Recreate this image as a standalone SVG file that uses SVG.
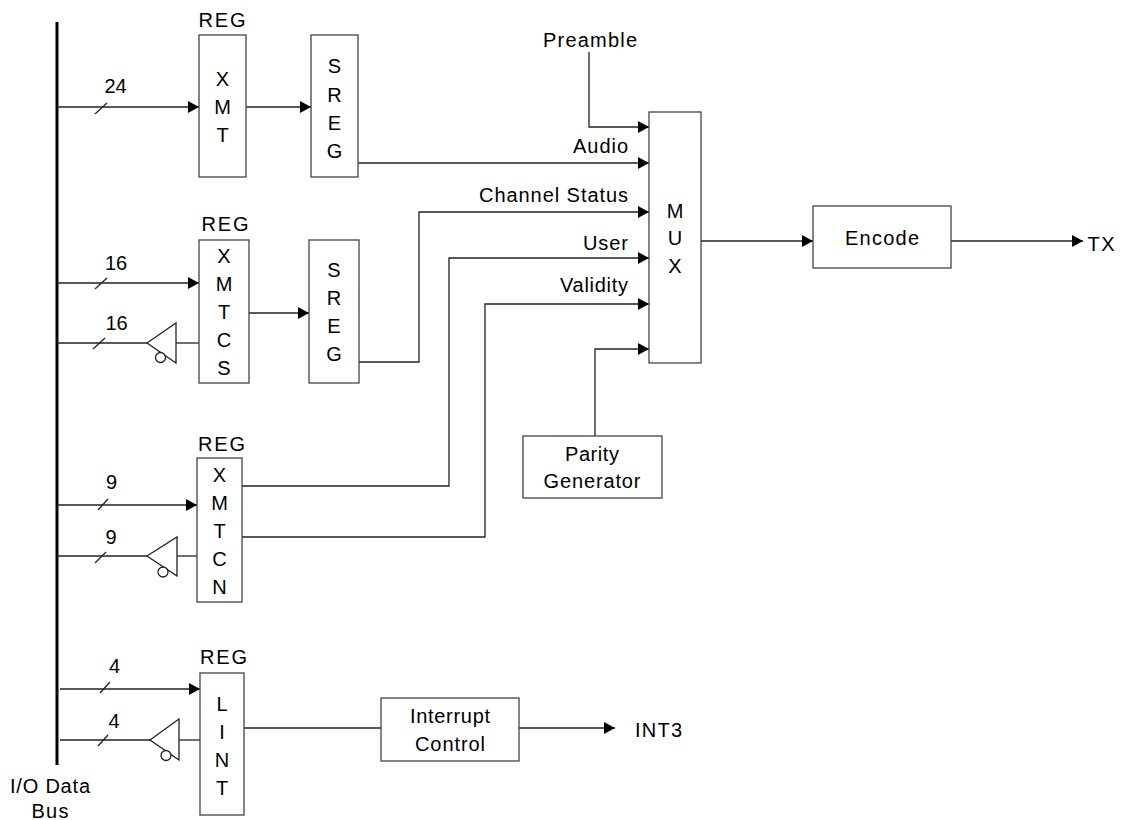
<svg xmlns="http://www.w3.org/2000/svg" width="1125" height="820" viewBox="0 0 1125 820">
<style>
.ln{stroke:#222;stroke-width:1.3;fill:none}
.bx{stroke:#444;stroke-width:1.3;fill:#fff}
.bf{stroke:#222;stroke-width:1.3;fill:#fff}
.t{font-family:"Liberation Sans",Arial,Helvetica,sans-serif;font-size:20px;fill:#000;text-anchor:middle}
.arr{marker-end:url(#ah)}
</style>
<defs>
<marker id="ah" markerUnits="userSpaceOnUse" markerWidth="11" markerHeight="12" refX="11" refY="6" orient="auto" viewBox="0 0 11 12"><path d="M0,0L11,6L0,12z" fill="#000"/></marker>
</defs>
<rect width="1125" height="820" fill="#fff"/>

<g id="bus">
<line x1="57" y1="22" x2="57" y2="765" stroke="#000" stroke-width="3"/>
<text class="t" x="50" y="793" textLength="80">I/O Data</text>
<text class="t" x="50" y="818" textLength="37">Bus</text>
</g>

<g id="connectors">
<path class="ln arr" d="M57,107H199"/>
<path class="ln" d="M95,114L107,103"/>
<path class="ln arr" d="M246,107H311"/>
<path class="ln arr" d="M358,163H649"/>
<path class="ln arr" d="M589,52V127H649"/>
<path class="ln arr" d="M359,362H419V212H649"/>
<path class="ln arr" d="M57,283H199"/>
<path class="ln" d="M95,289L107,278"/>
<path class="ln" d="M57,343H147"/>
<path class="ln" d="M93,349L105,338"/>
<path class="ln" d="M176,343H199"/>
<path class="ln arr" d="M249,313H309"/>
<path class="ln arr" d="M242,486H449V258H649"/>
<path class="ln arr" d="M242,537H485V304H649"/>
<path class="ln arr" d="M57,505H197"/>
<path class="ln" d="M98,510L108,499"/>
<path class="ln" d="M57,556H147"/>
<path class="ln" d="M95,563L106,552"/>
<path class="ln" d="M177,556H197"/>
<path class="ln arr" d="M595,436V349H649"/>
<path class="ln arr" d="M701,241H813"/>
<path class="ln arr" d="M951,241H1083"/>
<path class="ln arr" d="M60,689H200"/>
<path class="ln" d="M100,693L110,682"/>
<path class="ln" d="M60,740H150"/>
<path class="ln" d="M98,746L108,735"/>
<path class="ln" d="M179,740H200"/>
<path class="ln" d="M244,728H381"/>
<path class="ln arr" d="M519,728H615"/>
<text class="t" x="115.5" y="93">24</text>
<text class="t" x="116" y="270">16</text>
<text class="t" x="116.5" y="330">16</text>
<text class="t" x="111.5" y="489">9</text>
<text class="t" x="111" y="544">9</text>
<text class="t" x="114.5" y="673">4</text>
<text class="t" x="114" y="728">4</text>
<text class="t" x="590" y="47" textLength="94">Preamble</text>
<text class="t" x="600.5" y="153" textLength="55">Audio</text>
<text class="t" x="553.5" y="202" textLength="149">Channel Status</text>
<text class="t" x="605.5" y="250" textLength="45">User</text>
<text class="t" x="594" y="292" textLength="68">Validity</text>
<text class="t" x="1101" y="251" textLength="27">TX</text>
<text class="t" x="658.5" y="737" textLength="47">INT3</text>
</g>

<g id="buf1">
<polygon class="bf" points="147,343 176,323 176,363"/>
<circle class="bf" cx="160.5" cy="357.5" r="5"/>
</g>
<g id="buf2">
<polygon class="bf" points="147,556 177,537 177,576"/>
<circle class="bf" cx="163" cy="572" r="5"/>
</g>
<g id="buf3">
<polygon class="bf" points="150,740 179,719 179,760"/>
<circle class="bf" cx="166" cy="755.5" r="5"/>
</g>

<g id="reg-xmt">
<text class="t" x="222" y="27" textLength="47">REG</text>
<rect class="bx" x="199" y="35" width="47" height="142"/>
<text class="t" x="222.5" y="86">X</text>
<text class="t" x="222.5" y="114">M</text>
<text class="t" x="222.5" y="142">T</text>
</g>

<g id="sreg1">
<rect class="bx" x="311" y="35" width="47" height="142"/>
<text class="t" x="334.5" y="73">S</text>
<text class="t" x="334.5" y="102">R</text>
<text class="t" x="334.5" y="130">E</text>
<text class="t" x="334.5" y="158">G</text>
</g>

<g id="reg-xmtcs">
<text class="t" x="225" y="231" textLength="47">REG</text>
<rect class="bx" x="199" y="240" width="50" height="143"/>
<text class="t" x="224" y="263">X</text>
<text class="t" x="224" y="291">M</text>
<text class="t" x="224" y="319">T</text>
<text class="t" x="224" y="347">C</text>
<text class="t" x="224" y="375">S</text>
</g>

<g id="sreg2">
<rect class="bx" x="309" y="240" width="50" height="143"/>
<text class="t" x="334" y="277">S</text>
<text class="t" x="334" y="305">R</text>
<text class="t" x="334" y="333">E</text>
<text class="t" x="334" y="361">G</text>
</g>

<g id="reg-xmtcn">
<text class="t" x="221.5" y="451" textLength="47">REG</text>
<rect class="bx" x="197" y="458" width="45" height="144"/>
<text class="t" x="219.5" y="482">X</text>
<text class="t" x="219.5" y="510">M</text>
<text class="t" x="219.5" y="538">T</text>
<text class="t" x="219.5" y="566">C</text>
<text class="t" x="219.5" y="594">N</text>
</g>

<g id="reg-lint">
<text class="t" x="223.5" y="664" textLength="47">REG</text>
<rect class="bx" x="200" y="673" width="44" height="142"/>
<text class="t" x="222" y="711">L</text>
<text class="t" x="222" y="739">I</text>
<text class="t" x="222" y="767">N</text>
<text class="t" x="222" y="795">T</text>
</g>

<g id="mux">
<rect class="bx" x="649" y="112" width="52" height="251"/>
<text class="t" x="675" y="218">M</text>
<text class="t" x="675" y="245">U</text>
<text class="t" x="675" y="273">X</text>
</g>

<g id="parity">
<rect class="bx" x="523" y="436" width="139" height="62"/>
<text class="t" x="592" y="461" textLength="54">Parity</text>
<text class="t" x="592" y="488" textLength="97">Generator</text>
</g>

<g id="encode">
<rect class="bx" x="813" y="206" width="138" height="62"/>
<text class="t" x="882" y="245" textLength="74">Encode</text>
</g>

<g id="interrupt">
<rect class="bx" x="381" y="698" width="138" height="63"/>
<text class="t" x="450" y="723" textLength="80">Interrupt</text>
<text class="t" x="450" y="751" textLength="70">Control</text>
</g>
</svg>
